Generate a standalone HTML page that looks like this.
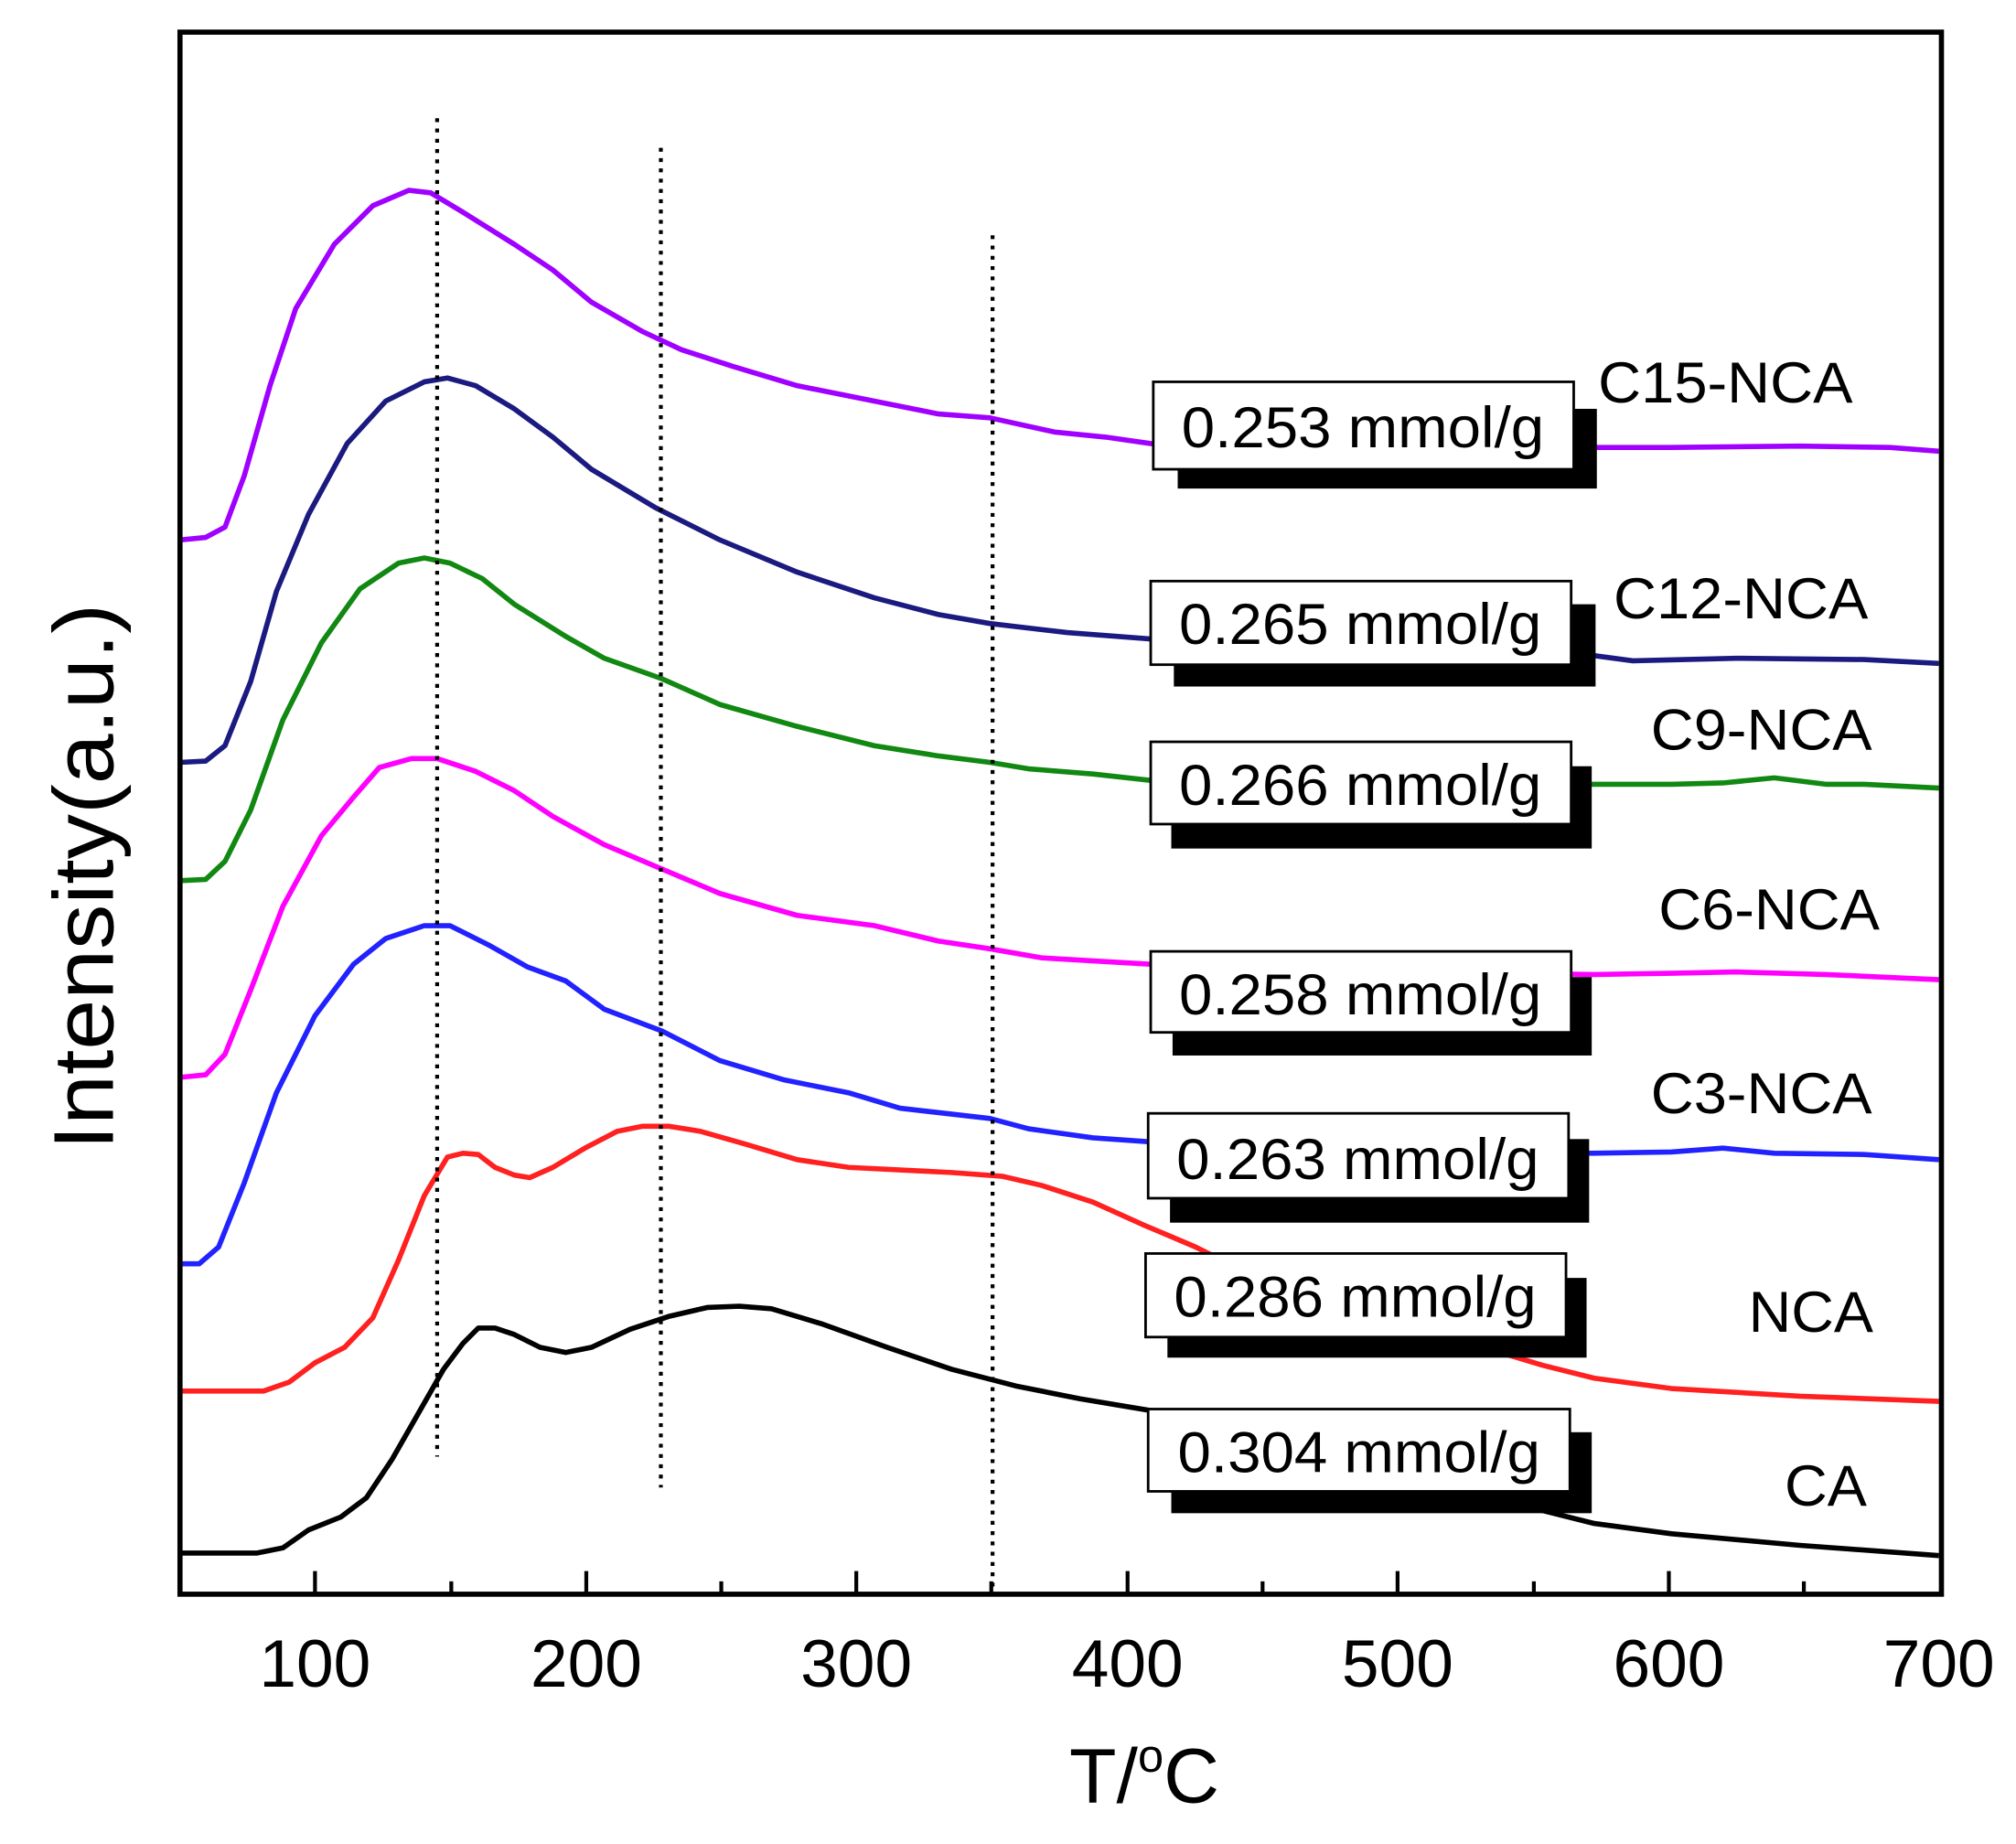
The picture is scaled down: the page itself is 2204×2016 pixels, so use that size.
<!DOCTYPE html>
<html><head><style>html,body{margin:0;padding:0;background:#fff;}svg{display:block}</style></head>
<body>
<svg width="2204" height="2016" viewBox="0 0 1568 1434.3" preserveAspectRatio="none" xmlns="http://www.w3.org/2000/svg" font-family="Liberation Sans, Arial, sans-serif">
<rect width="1568" height="1435" fill="#fff"/>
<g fill="none" stroke-width="4" stroke-linejoin="round">
<polyline stroke="#a000ff" points="140,420 160,418 175,410 190,370 210,300 230,240 260,190 290,160 318,148 335,150 360,165 400,190 430,210 460,235 500,258 530,272 570,285 620,300 680,312 730,322 770,325 820,336 860,340 895,345 1000,347 1240,348 1300,348 1400,347 1470,348 1508,351"/>
<polyline stroke="#1a1a80" points="140,593 160,592 175,580 195,530 215,460 240,400 270,345 300,312 330,297 348,294 370,300 400,318 430,340 460,365 510,395 560,420 620,445 680,465 730,478 770,485 830,492 895,497 1000,505 1240,510 1270,514 1350,512 1450,513 1508,516"/>
<polyline stroke="#118811" points="140,685 160,684 175,670 195,630 220,560 250,500 280,458 310,438 330,434 350,438 375,450 400,470 440,495 470,512 515,528 560,548 620,565 680,580 730,588 770,593 800,598 850,602 895,607 1000,609 1240,610 1300,610 1340,609 1380,605 1420,610 1450,610 1508,613"/>
<polyline stroke="#ff00ff" points="140,838 160,836 175,820 195,770 220,705 250,650 275,620 295,597 320,590 340,590 370,600 400,615 430,635 470,657 515,676 560,695 620,712 680,720 730,732 770,738 810,745 860,748 895,750 1000,754 1240,758 1300,757 1350,756 1420,758 1508,762"/>
<polyline stroke="#2222ff" points="140,983 155,983 170,970 190,920 215,850 245,790 275,750 300,730 330,720 350,720 380,735 410,752 440,763 470,785 515,802 560,825 610,840 660,850 700,862 770,870 800,878 850,885 893,888 1000,892 1238,897 1300,896 1340,893 1380,897 1450,898 1508,902"/>
<polyline stroke="#ff2020" points="140,1082 205,1082 225,1075 245,1060 268,1048 290,1025 310,980 330,930 348,900 360,897 372,898 385,908 400,914 412,916 430,908 455,893 480,880 500,876 520,876 545,880 580,890 620,902 660,908 700,910 740,912 780,915 810,922 850,935 890,953 930,970 960,985 1050,1020 1130,1043 1160,1050 1200,1062 1240,1072 1300,1080 1400,1086 1508,1090"/>
<polyline stroke="#000" points="140,1208 200,1208 220,1204 240,1190 265,1180 285,1165 305,1135 325,1100 345,1065 360,1045 372,1033 385,1033 400,1038 420,1048 440,1052 460,1048 490,1034 520,1024 550,1017 575,1016 600,1018 640,1030 690,1048 740,1065 790,1078 840,1088 900,1098 1000,1120 1100,1145 1200,1175 1240,1185 1300,1193 1400,1202 1508,1210"/>
</g>
<g stroke="#000" stroke-width="3" stroke-dasharray="3,5">
<line x1="340" y1="92" x2="340" y2="1133"/>
<line x1="514" y1="115" x2="514" y2="1157"/>
<line x1="772" y1="183" x2="772" y2="1240"/>
</g>
<g font-size="45" fill="#000">
<rect x="916" y="318" width="326" height="62"/><rect x="897" y="297" width="327" height="68" fill="#fff" stroke="#000" stroke-width="2"/><text x="1060" y="348" text-anchor="middle" textLength="282" lengthAdjust="spacingAndGlyphs">0.253 mmol/g</text>
<rect x="913" y="470" width="328" height="64"/><rect x="895" y="452" width="327" height="65" fill="#fff" stroke="#000" stroke-width="2"/><text x="1058" y="501" text-anchor="middle" textLength="282" lengthAdjust="spacingAndGlyphs">0.265 mmol/g</text>
<rect x="911" y="596" width="327" height="64"/><rect x="895" y="577" width="327" height="64" fill="#fff" stroke="#000" stroke-width="2"/><text x="1058" y="626" text-anchor="middle" textLength="282" lengthAdjust="spacingAndGlyphs">0.266 mmol/g</text>
<rect x="912" y="760" width="326" height="61"/><rect x="895" y="740" width="327" height="63" fill="#fff" stroke="#000" stroke-width="2"/><text x="1058" y="789" text-anchor="middle" textLength="282" lengthAdjust="spacingAndGlyphs">0.258 mmol/g</text>
<rect x="910" y="886" width="326" height="65"/><rect x="893" y="866" width="327" height="66" fill="#fff" stroke="#000" stroke-width="2"/><text x="1056" y="917" text-anchor="middle" textLength="282" lengthAdjust="spacingAndGlyphs">0.263 mmol/g</text>
<rect x="908" y="994" width="326" height="62"/><rect x="891" y="975" width="327" height="65" fill="#fff" stroke="#000" stroke-width="2"/><text x="1054" y="1024" text-anchor="middle" textLength="282" lengthAdjust="spacingAndGlyphs">0.286 mmol/g</text>
<rect x="911" y="1114" width="327" height="63"/><rect x="893" y="1096" width="328" height="64" fill="#fff" stroke="#000" stroke-width="2"/><text x="1057" y="1145" text-anchor="middle" textLength="282" lengthAdjust="spacingAndGlyphs">0.304 mmol/g</text>
<text x="1243" y="313" textLength="198" lengthAdjust="spacingAndGlyphs">C15-NCA</text>
<text x="1255" y="481" textLength="198" lengthAdjust="spacingAndGlyphs">C12-NCA</text>
<text x="1284" y="583" textLength="172" lengthAdjust="spacingAndGlyphs">C9-NCA</text>
<text x="1290" y="723" textLength="172" lengthAdjust="spacingAndGlyphs">C6-NCA</text>
<text x="1284" y="866" textLength="172" lengthAdjust="spacingAndGlyphs">C3-NCA</text>
<text x="1360" y="1036" textLength="97" lengthAdjust="spacingAndGlyphs">NCA</text>
<text x="1388" y="1171" textLength="64" lengthAdjust="spacingAndGlyphs">CA</text>
</g>
<rect x="140" y="25" width="1370" height="1215" fill="none" stroke="#000" stroke-width="4"/>
<g stroke="#000" stroke-width="3">
<line x1="245" y1="1240" x2="245" y2="1222"/><line x1="351" y1="1240" x2="351" y2="1230"/>
<line x1="456" y1="1240" x2="456" y2="1222"/><line x1="561" y1="1240" x2="561" y2="1230"/>
<line x1="666" y1="1240" x2="666" y2="1222"/><line x1="771" y1="1240" x2="771" y2="1230"/>
<line x1="877" y1="1240" x2="877" y2="1222"/><line x1="982" y1="1240" x2="982" y2="1230"/>
<line x1="1087" y1="1240" x2="1087" y2="1222"/><line x1="1193" y1="1240" x2="1193" y2="1230"/>
<line x1="1298" y1="1240" x2="1298" y2="1222"/><line x1="1403" y1="1240" x2="1403" y2="1230"/>
</g>
<g font-size="52" text-anchor="middle" fill="#000">
<text x="245" y="1312">100</text><text x="456" y="1312">200</text><text x="666" y="1312">300</text>
<text x="877" y="1312">400</text><text x="1087" y="1312">500</text><text x="1298" y="1312">600</text><text x="1508" y="1312">700</text>
</g>
<text x="890" y="1402" font-size="60" text-anchor="middle">T/<tspan font-size="36" dy="-24">o</tspan><tspan dy="24">C</tspan></text>
<text transform="translate(88,682) rotate(-90)" font-size="66" text-anchor="middle" textLength="425" lengthAdjust="spacingAndGlyphs">Intensity(a.u.)</text>
</svg>
</body></html>
